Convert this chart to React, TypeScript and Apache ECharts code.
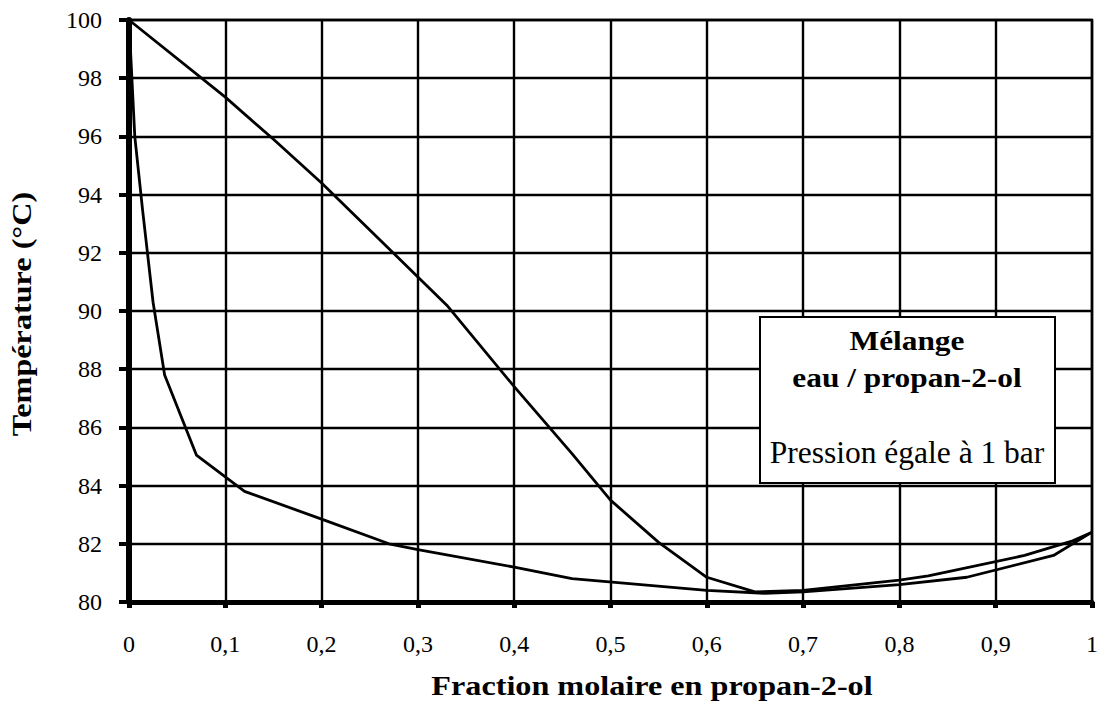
import React, { useEffect, useRef } from "react";
import * as echarts from "echarts";

const dewX = [0, 0.1, 0.15, 0.2, 0.33, 0.4, 0.46, 0.5, 0.55, 0.6, 0.65, 0.7, 0.8, 0.83, 0.93, 0.98, 1];
const dewT = [100, 97.35, 95.9, 94.4, 90.2, 87.4, 85.1, 83.5, 82.05, 80.85, 80.35, 80.4, 80.75, 80.9, 81.6, 82.1, 82.4];
const bubX = [0, 0.006, 0.014, 0.025, 0.037, 0.07, 0.12, 0.2, 0.27, 0.3, 0.4, 0.46, 0.6, 0.66, 0.7, 0.8, 0.87, 0.96, 1];
const bubT = [100, 96, 93.5, 90.3, 87.8, 85.05, 83.8, 82.85, 82.0, 81.8, 81.2, 80.8, 80.4, 80.3, 80.35, 80.6, 80.85, 81.6, 82.4];

const xTitle = "Fraction molaire en propan-2-ol";
const yTitle = "Température (°C)";
const boxLines = ["Mélange", "eau / propan-2-ol", "Pression égale à 1 bar"];

const FONT = "Liberation Serif";

export default function App() {
  const ref = useRef<HTMLDivElement>(null);
  useEffect(() => {
    const chart = echarts.init(ref.current!, null, { renderer: "svg" });
    const toPairs = (xs: number[], ys: number[]) => xs.map((x, i) => [x, ys[i]]);
    const txt = (
      text: string,
      x: number,
      y: number,
      size: number,
      bold: boolean,
      scaleX: number,
      rotation = 0,
      z = 21
    ) => ({
      type: "text",
      x,
      y,
      scaleX,
      rotation,
      z,
      style: {
        text,
        fontFamily: FONT,
        fontWeight: bold ? "bold" : "normal",
        fontSize: size,
        fill: "#000",
        align: "center",
        verticalAlign: "middle",
      },
    });
    chart.setOption({
      animation: false,
      backgroundColor: "#fff",
      grid: { left: 129, right: 10, top: 20, bottom: 100, show: false },
      xAxis: {
        type: "value",
        min: 0,
        max: 1,
        interval: 0.1,
        axisLine: { show: true, onZero: false, lineStyle: { color: "#000", width: 5 } },
        axisTick: { show: true, length: 6, lineStyle: { color: "#000", width: 5 } },
        splitLine: { show: true, lineStyle: { color: "#000", width: 2.4 } },
        axisLabel: {
          color: "#000",
          fontFamily: FONT,
          fontSize: 24,
          margin: 30,
          formatter: (v: number) => String(Math.round(v * 10) / 10).replace(".", ","),
        },
      },
      yAxis: {
        type: "value",
        min: 80,
        max: 100,
        interval: 2,
        axisLine: { show: true, onZero: false, lineStyle: { color: "#000", width: 6 } },
        axisTick: { show: true, length: 10, lineStyle: { color: "#000", width: 4 } },
        splitLine: { show: true, lineStyle: { color: "#000", width: 2.4 } },
        axisLabel: { color: "#000", fontFamily: FONT, fontSize: 24, margin: 27 },
      },
      series: [
        {
          type: "line",
          data: toPairs(dewX, dewT),
          symbol: "none",
          lineStyle: { color: "#000", width: 2.8 },
          z: 5,
        },
        {
          type: "line",
          data: toPairs(bubX, bubT),
          symbol: "none",
          lineStyle: { color: "#000", width: 2.8 },
          z: 5,
        },
      ],
      graphic: [
        {
          type: "rect",
          shape: { x: 129, y: 20, width: 963, height: 582 },
          style: { fill: "none", stroke: "#000", lineWidth: 2.5 },
          z: 10,
        },
        {
          type: "rect",
          shape: { x: 760, y: 317, width: 295, height: 166 },
          style: { fill: "#fff", stroke: "#000", lineWidth: 2 },
          z: 20,
        },
        txt(boxLines[0], 907, 341, 28, true, 1.12),
        txt(boxLines[1], 907, 378, 28, true, 1.12),
        txt(boxLines[2], 907, 452, 31.5, false, 1),
        txt(xTitle, 652, 686, 28, true, 1.15, 0, 1),
        txt(yTitle, 22, 314, 28, true, 1.15, Math.PI / 2, 1),
      ],
    });
    return () => chart.dispose();
  }, []);
  return (
    <div
      ref={ref}
      style={{ position: "fixed", left: 0, top: 0, width: 1102, height: 702, background: "#fff" }}
    />
  );
}
